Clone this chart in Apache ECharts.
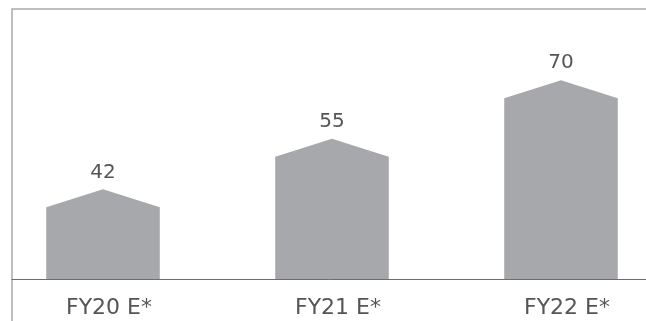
<!DOCTYPE html>
<html><head><meta charset="utf-8">
<script src="https://cdn.jsdelivr.net/npm/echarts@6/dist/echarts.min.js"></script>
<style>html,body{margin:0;padding:0;background:#fff}#c{width:646px;height:321px}</style>
</head><body><div id="c"></div>
<script>
var categories = ['FY20 E*', 'FY21 E*', 'FY22 E*'];
var values = [42, 55, 70];

var chart = echarts.init(document.getElementById('c'), null, {renderer: 'canvas'});
var FONT = 'DejaVu Sans';
chart.setOption({
  animation: false,
  grid: [
    {left: -11.5, width: 687, top: 10, height: 269, outerBoundsMode: 'none', containLabel: false},
    {left: 12, width: 640, top: 9, height: 330, show: true, borderColor: '#a9a9a9', borderWidth: 1.5, backgroundColor: 'transparent', outerBoundsMode: 'none'},
    {left: 12, width: 640, top: 9, height: 270, outerBoundsMode: 'none'}
  ],
  xAxis: [
    {type: 'category', gridIndex: 0, data: categories,
     axisLine: {show: false}, axisTick: {show: false},
     axisLabel: {color: '#555555', fontFamily: FONT, fontSize: 22, margin: 18, padding: [0, 0, 0, 12]}},
    {type: 'value', gridIndex: 1, show: false},
    {type: 'value', gridIndex: 2, axisLine: {show: true, lineStyle: {color: '#6d6d6d', width: 1}},
     axisTick: {show: false}, axisLabel: {show: false}, splitLine: {show: false}}
  ],
  yAxis: [
    {type: 'value', gridIndex: 0, min: 19, max: 88, show: false, splitLine: {show: false}},
    {type: 'value', gridIndex: 1, show: false},
    {type: 'value', gridIndex: 2, show: false}
  ],
  series: [{
    type: 'custom',
    xAxisIndex: 0, yAxisIndex: 0,
    data: values.map(function (v, i) { return [i, v]; }),
    renderItem: function (params, api) {
      var i = api.value(0), v = api.value(1);
      var top = api.coord([i, v]);
      var base = api.coord([i, 19]);
      var hw = api.size([1, 0])[0] * 0.248;
      var sh = 18;
      return {
        type: 'group',
        children: [
          {type: 'polygon', shape: {points: [
            [top[0] - hw, base[1]], [top[0] - hw, top[1] + sh], [top[0], top[1]],
            [top[0] + hw, top[1] + sh], [top[0] + hw, base[1]]]},
           style: {fill: '#a7a8ab'}},
          {type: 'text', x: top[0], y: top[1] - 7,
           style: {text: String(v), fill: '#555555', font: '20px "' + FONT + '"', align: 'center', verticalAlign: 'bottom'}}
        ]
      };
    }
  }]
});
</script></body></html>
